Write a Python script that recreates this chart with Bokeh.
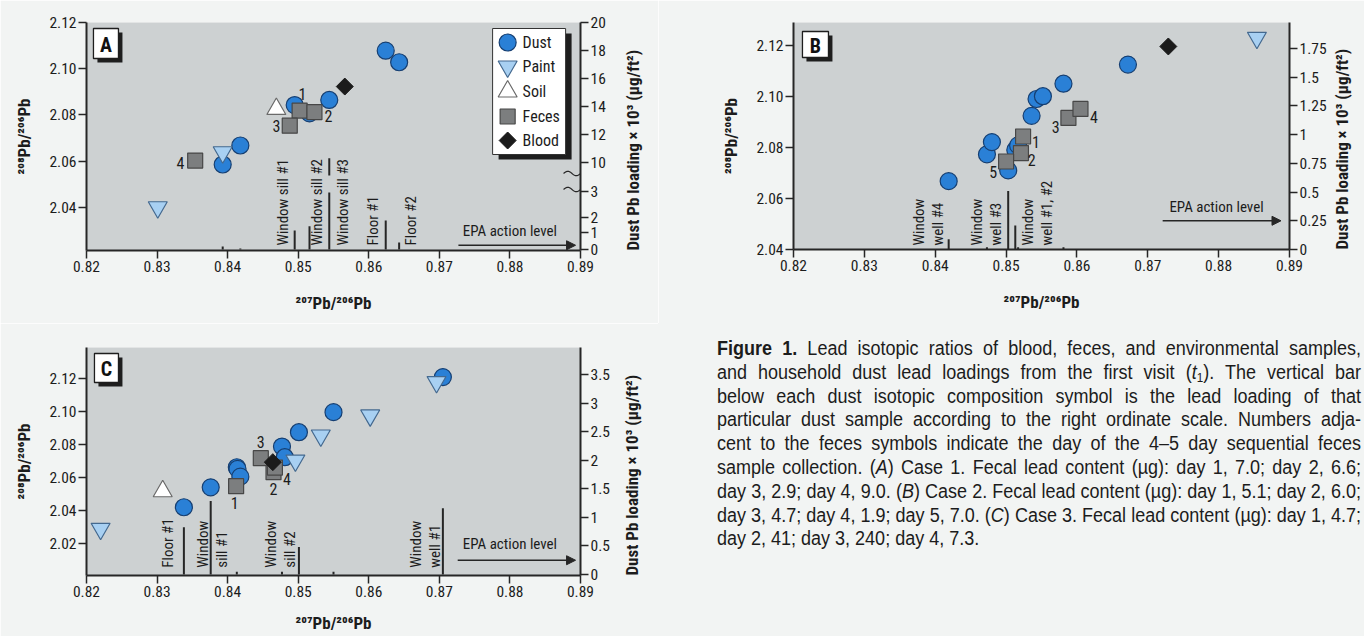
import numpy as np
from bokeh.plotting import figure
from bokeh.models import Range1d, LinearAxis, FixedTicker, NumeralTickFormatter, Div, Arrow, NormalHead
from bokeh.layouts import row, column
from bokeh.core.properties import value
from bokeh.embed import file_html
from bokeh.resources import INLINE

# ---------------- data ----------------
X_TICKS = [0.82, 0.83, 0.84, 0.85, 0.86, 0.87, 0.88, 0.89]
LEGEND_NAMES = ["Dust", "Paint", "Soil", "Feces", "Blood"]

# Panel A (Case 1)
A_Y_TICKS = [2.04, 2.06, 2.08, 2.10, 2.12]
A_DUST_X = [0.8393, 0.8418, 0.8495, 0.8516, 0.8544, 0.8624, 0.8643]
A_DUST_Y = [2.0586, 2.0668, 2.0843, 2.0807, 2.0865, 2.1078, 2.1028]
A_DUST_LOAD = [0.18, 0.06, 1.13, 1.42, 10.3, 1.8, 0.41]
A_PAINT_X = [0.8393, 0.8301]
A_PAINT_Y = [2.0639, 2.0401]
A_SOIL_X = [0.8469]
A_SOIL_Y = [2.0826]
A_FECES_X = [0.8502, 0.8523, 0.8488, 0.8354]
A_FECES_Y = [2.0819, 2.0812, 2.0754, 2.0603]
A_FECES_DAY = ["1", "2", "3", "4"]
A_FECES_LBL_X = [0.8506, 0.8543, 0.8469, 0.8333]
A_FECES_LBL_Y = [2.0891, 2.0797, 2.0751, 2.0591]
A_BLOOD_X = [0.8566]
A_BLOOD_Y = [2.0923]
A_SITE = ["Window sill #1", "Window sill #2", "Window sill #3", "Floor #1", "Floor #2"]
A_SITE_X = [0.8478, 0.8527, 0.8563, 0.8606, 0.8660]
A_LOAD_TICKS = [0, 1, 2, 3, 10, 12, 14, 16, 18, 20]

# Panel B (Case 2)
B_Y_TICKS = [2.04, 2.06, 2.08, 2.10, 2.12]
B_DUST_X = [0.8419, 0.8473, 0.8480, 0.8503, 0.8513, 0.8517, 0.8536, 0.8543, 0.8552, 0.8581, 0.8672]
B_DUST_Y = [2.0668, 2.0773, 2.0821, 2.0710, 2.0790, 2.0808, 2.0924, 2.0990, 2.1001, 2.1050, 2.1125]
B_DUST_LOAD = [0.09, 0.02, 0.0, 0.51, 0.21, 0.02, 0.0, 0.0, 0.0, 0.02, 0.0]
B_PAINT_X = [0.8854]
B_PAINT_Y = [2.1230]
B_FECES_X = [0.8524, 0.8521, 0.8588, 0.8605, 0.8500]
B_FECES_Y = [2.0843, 2.0778, 2.0916, 2.0951, 2.0745]
B_FECES_DAY = ["1", "2", "3", "4", "5"]
B_FECES_LBL_X = [0.8542, 0.8536, 0.8570, 0.8624, 0.8482]
B_FECES_LBL_Y = [2.0821, 2.0752, 2.0879, 2.0919, 2.0703]
B_BLOOD_X = [0.8729]
B_BLOOD_Y = [2.1196]
B_SITE = ["Window\nwell #4", "Window\nwell #3", "Window\nwell #1, #2"]
B_SITE_X = [0.8391, 0.8473, 0.8544]
B_LOAD_TICKS = [0, 0.25, 0.5, 0.75, 1, 1.25, 1.5, 1.75]

# Panel C (Case 3)
C_Y_TICKS = [2.02, 2.04, 2.06, 2.08, 2.10, 2.12]
C_DUST_X = [0.8338, 0.8376, 0.8413, 0.8414, 0.8418, 0.8477, 0.8481, 0.8501, 0.8550, 0.8705]
C_DUST_Y = [2.0419, 2.0540, 2.0662, 2.0652, 2.0605, 2.0788, 2.0723, 2.0875, 2.0997, 2.1210]
C_DUST_LOAD = [0.83, 1.29, 0.05, 0.0, 0.0, 0.05, 0.0, 0.48, 0.05, 1.16]
C_PAINT_X = [0.8220, 0.8496, 0.8532, 0.8602, 0.8696]
C_PAINT_Y = [2.0288, 2.0703, 2.0855, 2.0977, 2.1180]
C_SOIL_X = [0.8308]
C_SOIL_Y = [2.0516]
C_FECES_X = [0.8412, 0.8465, 0.8447, 0.8467]
C_FECES_Y = [2.0547, 2.0632, 2.0717, 2.0660]
C_FECES_DAY = ["1", "2", "3", "4"]
C_FECES_LBL_X = [0.8410, 0.8465, 0.8447, 0.8484]
C_FECES_LBL_Y = [2.0443, 2.0531, 2.0814, 2.0592]
C_BLOOD_X = [0.8464]
C_BLOOD_Y = [2.0693]
C_SITE = ["Floor #1", "Window\nsill #1", "Window\nsill #2", "Window\nwell #1"]
C_SITE_X = [0.8316, 0.8378, 0.8475, 0.8680]
C_LOAD_TICKS = [0, 0.5, 1, 1.5, 2, 2.5, 3, 3.5]

EPA_LEVEL = 0.25

SUB1 = "<span style='font-size:65%;vertical-align:-0.25em;line-height:0'>1</span>"
CAPTION = [
    "<b>Figure 1.</b> Lead isotopic ratios of blood, feces, and environmental samples,",
    f"and household dust lead loadings from the first visit (<i>t</i>{SUB1}). The vertical bar",
    "below each dust isotopic composition symbol is the lead loading of that",
    "particular dust sample according to the right ordinate scale. Numbers adja-",
    "cent to the feces symbols indicate the day of the 4\u20135 day sequential feces",
    "sample collection. (<i>A</i>) Case 1. Fecal lead content (\u00b5g): day 1, 7.0; day 2, 6.6;",
    "day 3, 2.9; day 4, 9.0. (<i>B</i>) Case 2. Fecal lead content (\u00b5g): day 1, 5.1; day 2, 6.0;",
    "day 3, 4.7; day 4, 1.9; day 5, 7.0. (<i>C</i>) Case 3. Fecal lead content (\u00b5g): day 1, 4.7;",
    "day 2, 41; day 3, 240; day 4, 7.3.",
]

# ---------------- style ----------------
FONT = "'Roboto Condensed', 'Liberation Sans Narrow', 'Liberation Sans', sans-serif"
CAP_FONT = "'Liberation Sans', sans-serif"
PAGE_BG = "#f2f4f3"
PLOT_BG = "#cdd1d2"
AXC = "#262626"
TXT = "#1c1c1c"
DUST_FILL, DUST_LINE = "#2a80d6", "#163f72"
PAINT_FILL, PAINT_LINE = "#a8d0f2", "#44698f"
SOIL_FILL, SOIL_LINE = "#ffffff", "#6a6a6a"
FECES_FILL, FECES_LINE = "#7c7e7f", "#474747"
BLOOD_FILL = "#1b1b1b"
XLABEL = "\u00b2\u2070\u2077Pb/\u00b2\u2070\u2076Pb"
YLABEL = "\u00b2\u2070\u2078Pb/\u00b2\u2070\u2076Pb"
RLABEL = "Dust Pb loading \u00d7 10\u00b3 (\u00b5g/ft\u00b2)"
TICK_FS = "15.5px"


class Frame:
    def __init__(s, x0, x1, y0, y1, xr, yr):
        s.x0, s.x1, s.y0, s.y1, s.xr, s.yr = x0, x1, y0, y1, xr, yr

    def X(s, px):
        return s.xr[0] + (px - s.x0) / (s.x1 - s.x0) * (s.xr[1] - s.xr[0])

    def Y(s, py):
        return s.yr[1] - (py - s.y0) / (s.y1 - s.y0) * (s.yr[1] - s.yr[0])


def key(v):
    return int(v) if float(v).is_integer() else float(v)


def style_axis(ax, stand):
    ax.axis_line_color = AXC
    ax.axis_line_width = 2
    ax.major_tick_line_color = AXC
    ax.major_tick_line_width = 1.5
    ax.major_tick_in = 0
    ax.major_tick_out = 8
    ax.minor_tick_line_color = None
    ax.major_label_text_font = FONT
    ax.major_label_text_font_size = TICK_FS
    ax.major_label_text_color = TXT
    ax.major_label_standoff = 2
    ax.axis_label_text_font = FONT
    ax.axis_label_text_font_style = "bold"
    ax.axis_label_text_font_size = "17px"
    ax.axis_label_text_color = TXT
    ax.axis_label_standoff = stand


def make_fig(w, h, bl, br, bt, bb, yr, yticks, rr, rticks, rlabels, xstand, ystand, rstand):
    p = figure(width=w, height=h, x_range=Range1d(0.82, 0.89), y_range=Range1d(*yr),
               output_backend="svg", toolbar_location=None,
               min_border_left=bl, min_border_right=br, min_border_top=bt, min_border_bottom=bb,
               background_fill_color=PLOT_BG, border_fill_color=PAGE_BG, outline_line_color=None)
    p.xgrid.visible = False
    p.ygrid.visible = False
    p.extra_y_ranges = {"load": Range1d(*rr)}
    xa = p.below[0]
    ya = p.left[0]
    xa.ticker = FixedTicker(ticks=X_TICKS)
    xa.formatter = NumeralTickFormatter(format="0.00")
    xa.axis_label = XLABEL
    style_axis(xa, xstand)
    ya.ticker = FixedTicker(ticks=yticks)
    ya.formatter = NumeralTickFormatter(format="0.00")
    ya.axis_label = YLABEL
    style_axis(ya, ystand)
    ra = LinearAxis(y_range_name="load", axis_label=RLABEL)
    ra.ticker = FixedTicker(ticks=[key(t) for t in rticks])
    ra.major_label_overrides = {key(t): l for t, l in zip(rticks, rlabels)}
    style_axis(ra, rstand)
    props = ra.properties()
    if "axis_label_orientation" in props:
        ra.axis_label_orientation = np.pi / 2
    if "axis_label_align" in props:
        ra.axis_label_align = "start"
    p.add_layout(ra, "right")
    return p


def draw_points(p, dx, dy, px_, py_, sx, sy, fx, fy, fday, flx, fly, bx, by):
    p.scatter(dx, dy, marker="circle", size=17, fill_color=DUST_FILL, line_color=DUST_LINE, line_width=1.2)
    if px_:
        p.scatter(px_, py_, marker="inverted_triangle", size=19, fill_color=PAINT_FILL, line_color=PAINT_LINE, line_width=1.2)
    if sx:
        p.scatter(sx, sy, marker="triangle", size=19, fill_color=SOIL_FILL, line_color=SOIL_LINE, line_width=1.2)
    p.scatter(fx, fy, marker="square", size=15, fill_color=FECES_FILL, line_color=FECES_LINE, line_width=1.2)
    p.scatter(bx, by, marker="square", angle=np.pi / 4, size=12, fill_color=BLOOD_FILL, line_color=BLOOD_FILL)
    p.text(flx, fly, text=fday, text_font=value(FONT), text_font_size="16px", text_color=TXT,
           text_align="center", text_baseline="middle")


def draw_sites(p, names, xs, ybottom):
    p.text(xs, [ybottom] * len(xs), text=names, angle=np.pi / 2, y_range_name="load",
           text_font=value(FONT), text_font_size="15px", text_color=TXT, text_line_height=1.05,
           text_align="left", text_baseline="middle")


def draw_epa(p, xt, yt, x0, x1, ylev):
    p.text([xt], [yt], text=["EPA action level"], y_range_name="load", text_font=value(FONT),
           text_font_size="15px", text_color=TXT, text_align="center", text_baseline="middle")
    p.add_layout(Arrow(end=NormalHead(size=9, line_color=AXC, fill_color=AXC, line_width=1),
                       x_start=x0, y_start=ylev, x_end=x1, y_end=ylev, y_range_name="load",
                       line_color=AXC, line_width=1.5))


def letter_box(p, F, cx, cy, w, h, letter):
    p.rect([F.X(cx + 4)], [F.Y(cy + 4)], width=w, height=h, width_units="screen", height_units="screen",
           fill_color="#1e1e1e", line_color=None)
    p.rect([F.X(cx)], [F.Y(cy)], width=w, height=h, width_units="screen", height_units="screen",
           fill_color="white", line_color="#1e1e1e", line_width=1.3)
    p.text([F.X(cx)], [F.Y(cy + 1)], text=[letter], text_font=value(FONT), text_font_style="bold",
           text_font_size="20px", text_color="#111", text_align="center", text_baseline="middle")


# ---------------- Panel A ----------------
A_YR = (2.0214, 2.12)
A_LO_V, A_LO_P = [0, 1, 2, 3], [0, 17, 32, 58]
A_HI_V, A_HI_P = [10, 20], [87, 227]
A_BREAK_TOP = 74


def a_map(v):
    if v <= 3:
        return float(np.interp(v, A_LO_V, A_LO_P))
    return A_HI_P[0] + (v - A_HI_V[0]) * (A_HI_P[1] - A_HI_P[0]) / (A_HI_V[1] - A_HI_V[0])


pa = make_fig(658, 323, 85, 78, 22, 73, A_YR, A_Y_TICKS, (-1, 227),
              [a_map(v) for v in A_LOAD_TICKS], [str(v) for v in A_LOAD_TICKS], 18, 12, 24)
FA = Frame(85, 580, 22, 250, (0.82, 0.89), A_YR)
seg_x, seg_y0, seg_y1 = [], [], []
for x, v in zip(A_DUST_X, A_DUST_LOAD):
    if v <= 3:
        seg_x.append(x); seg_y0.append(0); seg_y1.append(a_map(v))
    else:
        seg_x += [x, x]; seg_y0 += [0, A_BREAK_TOP]; seg_y1 += [A_LO_P[-1] - 1, a_map(v)]
pa.segment(seg_x, seg_y0, seg_x, seg_y1, y_range_name="load", line_color=AXC, line_width=2)
wx = np.linspace(0.8876, 0.8900, 30)
for ub in (60, 76):
    pa.line(wx, ub + 2.2 * np.sin((wx - wx[0]) / (wx[-1] - wx[0]) * 2 * np.pi), y_range_name="load",
            line_color=AXC, line_width=1.2)
draw_sites(pa, A_SITE, A_SITE_X, 4)
draw_epa(pa, 0.8800, 19, 0.8727, 0.8893, a_map(EPA_LEVEL))
draw_points(pa, A_DUST_X, A_DUST_Y, A_PAINT_X, A_PAINT_Y, A_SOIL_X, A_SOIL_Y,
            A_FECES_X, A_FECES_Y, A_FECES_DAY, A_FECES_LBL_X, A_FECES_LBL_Y, A_BLOOD_X, A_BLOOD_Y)
letter_box(pa, FA, 104.5, 43, 25, 30, "A")
pa.rect([FA.X(528.5 + 6)], [FA.Y(91 + 5)], width=73, height=126, width_units="screen", height_units="screen",
        fill_color="#1e1e1e", line_color=None)
pa.rect([FA.X(528.5)], [FA.Y(91)], width=73, height=126, width_units="screen", height_units="screen",
        fill_color="white", line_color="#333333", line_width=1)
LY = [42, 66, 91, 116, 140]
lx = FA.X(507)
pa.scatter([lx], [FA.Y(LY[0])], marker="circle", size=17, fill_color=DUST_FILL, line_color=DUST_LINE, line_width=1.2)
pa.scatter([lx], [FA.Y(LY[1])], marker="inverted_triangle", size=19, fill_color=PAINT_FILL, line_color=PAINT_LINE, line_width=1.2)
pa.scatter([lx], [FA.Y(LY[2])], marker="triangle", size=19, fill_color=SOIL_FILL, line_color=SOIL_LINE, line_width=1.2)
pa.scatter([lx], [FA.Y(LY[3])], marker="square", size=15, fill_color=FECES_FILL, line_color=FECES_LINE, line_width=1.2)
pa.scatter([lx], [FA.Y(LY[4])], marker="square", angle=np.pi / 4, size=12, fill_color=BLOOD_FILL, line_color=BLOOD_FILL)
pa.text([FA.X(522)] * 5, [FA.Y(y) for y in LY], text=LEGEND_NAMES, text_font=value(FONT),
        text_font_size="16px", text_color=TXT, text_align="left", text_baseline="middle")

# ---------------- Panel B ----------------
B_YR = (2.04, 2.129)
pb = make_fig(706, 323, 135, 74, 22, 74, B_YR, B_Y_TICKS, (0, 1.977),
              B_LOAD_TICKS, ["%g" % v for v in B_LOAD_TICKS], 18, 12, 12)
FB = Frame(793, 1290, 22, 249, (0.82, 0.89), B_YR)
pb.segment(B_DUST_X, [0] * len(B_DUST_X), B_DUST_X, B_DUST_LOAD, y_range_name="load", line_color=AXC, line_width=2)
draw_sites(pb, B_SITE, B_SITE_X, 0.035)
draw_epa(pb, 0.8797, 0.368, 0.8721, 0.8888, EPA_LEVEL)
draw_points(pb, B_DUST_X, B_DUST_Y, B_PAINT_X, B_PAINT_Y, [], [],
            B_FECES_X, B_FECES_Y, B_FECES_DAY, B_FECES_LBL_X, B_FECES_LBL_Y, B_BLOOD_X, B_BLOOD_Y)
letter_box(pb, FB, 815, 44, 26, 26, "B")

# ---------------- Panel C ----------------
C_YR = (2.0004, 2.139)
pc = make_fig(658, 313, 86, 77, 24, 61, C_YR, C_Y_TICKS, (-0.0175, 3.98),
              C_LOAD_TICKS, ["%g" % v for v in C_LOAD_TICKS], 13, 12, 19)
FC = Frame(86, 581, 347, 575, (0.82, 0.89), C_YR)
pc.segment(C_DUST_X, [0] * len(C_DUST_X), C_DUST_X, C_DUST_LOAD, y_range_name="load", line_color=AXC, line_width=2)
draw_sites(pc, C_SITE, C_SITE_X, 0.12)
draw_epa(pc, 0.8800, 0.54, 0.8726, 0.8893, EPA_LEVEL)
draw_points(pc, C_DUST_X, C_DUST_Y, C_PAINT_X, C_PAINT_Y, C_SOIL_X, C_SOIL_Y,
            C_FECES_X, C_FECES_Y, C_FECES_DAY, C_FECES_LBL_X, C_FECES_LBL_Y, C_BLOOD_X, C_BLOOD_Y)
letter_box(pc, FC, 106, 367.5, 24, 29, "C")

# ---------------- caption ----------------
SCALE = 0.9
line_html = []
for i, l in enumerate(CAPTION):
    al = "left" if i == len(CAPTION) - 1 else "justify"
    line_html.append(f'<div style="white-space:nowrap;text-align:{al};text-align-last:{al};">{l}</div>')
cap_html = (f'<div style="position:absolute;left:59px;top:14px;width:{644 / SCALE:.1f}px;'
            f'transform:scaleX({SCALE});transform-origin:0 0;'
            f"font-family:{CAP_FONT};font-size:20px;line-height:23.8px;color:{TXT};\">"
            + "".join(line_html) + "</div>")
cap = Div(text=cap_html, width=706, height=313, margin=0,
          styles={"background-color": PAGE_BG, "overflow": "hidden", "position": "relative"})

layout = row(column(pa, pc), column(pb, cap))
open("out.html", "w").write(file_html(layout, INLINE))
